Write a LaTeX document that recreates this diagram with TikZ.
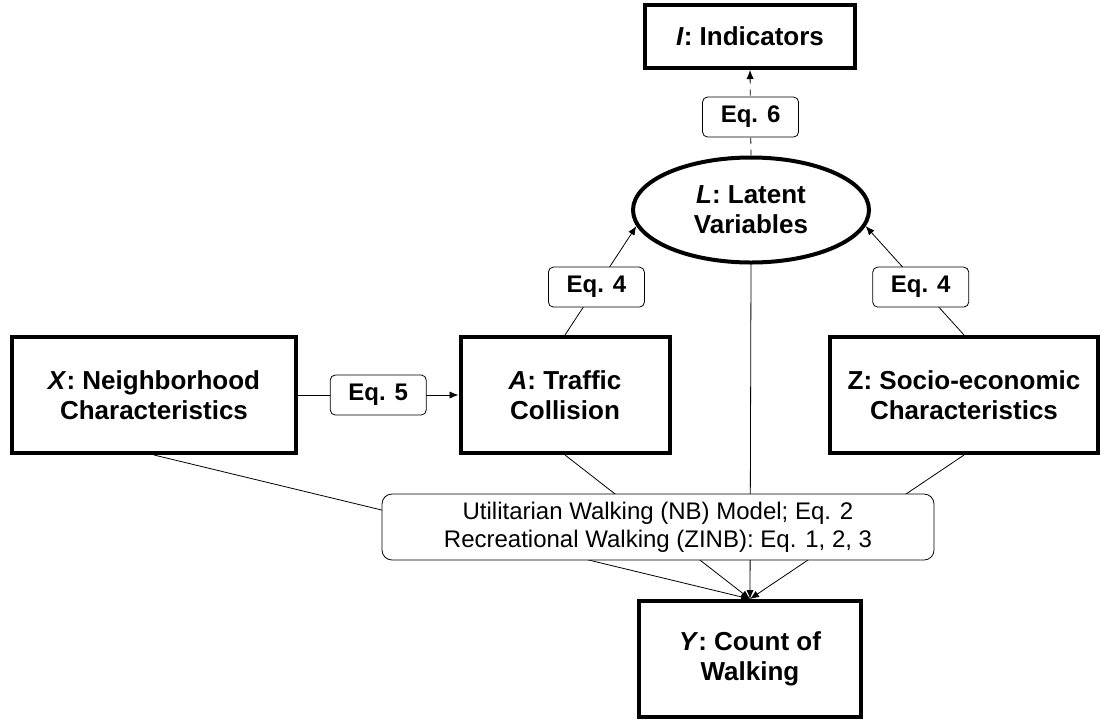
\documentclass[tikz,border=0pt]{standalone}
\usepackage{fontspec}
\setmainfont{Liberation Sans}
\usepackage{tikz}
\usetikzlibrary{shapes.geometric}
\usetikzlibrary{arrows.meta}

\begin{document}
\begin{tikzpicture}[
x=0.5pt, y=-0.5pt,
>={Latex[length=4.5pt,width=3.6pt]},
mainbox/.style={
    rectangle,
    draw=black,
    fill=white,
    line width=2pt,
    minimum width=105pt,
    minimum height=58pt,
    align=center,
    font=\fontsize{13}{15}\selectfont\bfseries,
    inner sep=0pt, % No inner spacing
},
latentnode/.style={
    ellipse,
    draw=black,
    fill=white,
    line width=2pt,
    minimum width=118pt,
    minimum height=52.5pt,
    align=center,
    font=\fontsize{13}{15}\selectfont\bfseries,
    inner sep=0pt,
},
eqbox/.style={
    rectangle,
    rounded corners=2.5pt,
    draw=black,
    fill=white,
    solid,
    thin,
    minimum width=48pt,
    minimum height=20pt,
    font=\fontsize{12}{14}\selectfont\bfseries,
    inner sep=0pt,
},
modelbox/.style={
    rectangle,
    rounded corners=5pt,
    draw=black,
    fill=white,
    thin,
    minimum width=276pt,
    minimum height=33pt,
    align=center,
    font=\fontsize{12}{14}\selectfont,
    inner sep=0pt,
},
]
\useasboundingbox (0,0) rectangle (1111,723);

\node[mainbox, minimum height=31.5pt] (I) at (750,36.5) {\textit{I}: Indicators};
\node[latentnode] (L) at (751,210) {\textit{L}: Latent\\Variables};

\node[mainbox, minimum width=142pt] (X) at (154,395) {\textit{X}: Neighborhood\\Characteristics};
\node[mainbox, minimum width=104.5pt] (A) at (565,395) {\textit{A}: Traffic\\Collision};
\node[mainbox, minimum width=134pt] (Z) at (964,395) {Z: Socio-economic\\Characteristics};

\node[mainbox, minimum width=111pt] (Y) at (750,659) {\textit{Y}: Count of\\Walking};

\draw[->] (X.east) -- node[eqbox] (eq5) {Eq. 5} (A.west);
\draw[->] (A.north) -- node[eqbox, pos=0.44] (eq4a) {Eq. 4} (L.188);
\draw[->] (Z.north) -- node[eqbox, pos=0.44] (eq4z) {Eq. 4} (L.352);
\draw[->, dashed] (L.north) -- node[eqbox, pos=0.45] (eq6) {Eq. 6} (I.south);

% all four feed the count model
\foreach \src in {X, A, L, Z}
    \draw[->] (\src.south) -- (Y.north);

\node[modelbox] (M) at (658,527) {Utilitarian Walking (NB) Model; Eq. 2\\Recreational Walking (ZINB): Eq. 1, 2, 3};

\end{tikzpicture}
\end{document}
